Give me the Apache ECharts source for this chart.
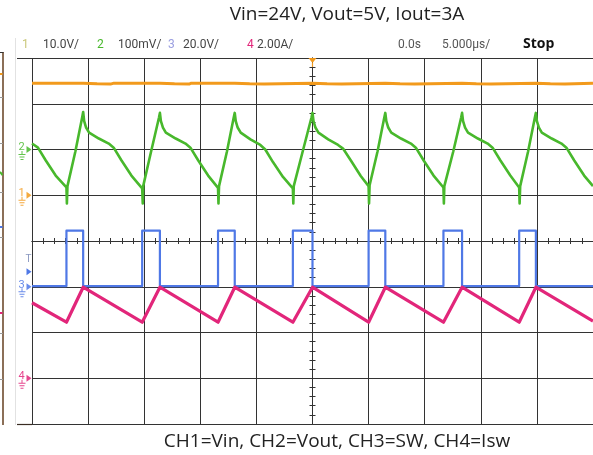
<!DOCTYPE html>
<html>
<head>
<meta charset="utf-8">
<script src="https://cdn.jsdelivr.net/npm/echarts@6/dist/echarts.min.js"></script>
<style>
  html, body { margin: 0; padding: 0; background: #ffffff; }
  #chart { width: 593px; height: 455px; }
</style>
</head>
<body>
<div id="chart"></div>
<script>
// Horizontal: 5 µs/div, 10 divisions, trigger point at 0 µs
const timeMin = -25, timeMax = 25, timeDiv = 5;
// Vertical: 8 divisions around the screen centre
const divMin = -4, divMax = 4;

// Channel setup: number, colour, units per division, ground position (divisions above centre)
const chNames = ['1', '2', '3', '4'];
const chColors = ['#f29a1c', '#48b82c', '#4f78e6', '#e2267a'];
const chScale = [10, 100, 20, 2];
const chGround = [1, 2, -1, -3];

// Readout texts
const title = 'Vin=24V, Vout=5V, Iout=3A';
const caption = 'CH1=Vin, CH2=Vout, CH3=SW, CH4=Isw';
const scaleLabels = ['10.0V/', '100mV/', '20.0V/', '2.00A/'];
const timeLabels = ['0.0s', '5.000µs/'];
const runState = 'Stop';

// CH1: input voltage (V)
const vinTime  = [-25, -20.44, -20.35, -19.2, -18.0, -17.7, -13.60, -13.51, -12.3, -11.0, -10.8, -6.93, -6.84, -5.6, -4.3, -4.2, 0, 0.09, 1.3, 2.6, 2.7, 6.49, 6.58, 7.8, 9.1, 9.2, 13.33, 13.42, 14.6, 15.9, 16.0, 19.91, 20.0, 21.2, 22.5, 22.6, 25];
const vinVolts = [24.5, 24.5, 24.3, 24.35, 24.3, 24.5, 24.5, 24.3, 24.35, 24.3, 24.5, 24.5, 24.3, 24.35, 24.3, 24.5, 24.5, 24.3, 24.35, 24.3, 24.5, 24.5, 24.3, 24.35, 24.3, 24.5, 24.5, 24.3, 24.35, 24.3, 24.5, 24.5, 24.3, 24.35, 24.3, 24.5, 24.5];

// CH2: output ripple (mV, AC coupled)
const voutTime = [
  -25.00, -24.47, -23.77, -22.89, -21.93, -21.89, -21.84, -21.14, -20.53, -20.44, -20.35, -20.18, -19.91, -19.04, -18.16, -17.72, -17.02, -16.14,
  -15.18, -15.13, -15.09, -14.39, -13.68, -13.60, -13.51, -13.33, -13.07, -12.19, -11.32, -10.88, -10.18, -9.30,
  -8.42, -8.38, -8.33, -7.63, -7.02, -6.93, -6.84, -6.67, -6.40, -5.53, -4.65, -4.21, -3.51, -2.63,
  -1.75, -1.71, -1.67, -0.88, -0.09, 0.00, 0.09, 0.26, 0.53, 1.40, 2.28, 2.72, 3.42, 4.30,
  5.00, 5.04, 5.09, 5.79, 6.40, 6.49, 6.58, 6.75, 7.02, 7.89, 8.77, 9.21, 9.91, 10.79,
  11.67, 11.71, 11.75, 12.54, 13.25, 13.33, 13.42, 13.60, 13.86, 14.74, 15.61, 16.05, 16.75, 17.63,
  18.42, 18.46, 18.51, 19.21, 19.82, 19.91, 20.00, 20.18, 20.44, 21.32, 22.19, 22.63, 23.33, 24.21, 25.00
];
const voutMilliVolts = [
  13, 4, -24, -57, -83, -118, -80, -5, 70, 82, 62, 48, 37, 24, 13, 4, -24, -57,
  -85, -118, -80, -5, 70, 80, 62, 48, 37, 24, 13, 4, -24, -57,
  -84, -118, -80, -5, 70, 80, 62, 48, 37, 22, 10, 0, -28, -60,
  -85, -118, -80, -5, 70, 80, 62, 48, 37, 22, 10, 2, -24, -58,
  -80, -118, -78, -5, 70, 80, 62, 48, 37, 24, 13, 4, -24, -57,
  -83, -118, -80, -5, 70, 80, 62, 48, 37, 24, 13, 4, -24, -57,
  -83, -118, -80, -5, 70, 80, 62, 48, 37, 24, 13, 4, -24, -57, -80
];

// CH3: switch node (V)
const swTime  = [-25, -21.93, -21.93, -20.44, -20.44, -15.18, -15.18, -13.60, -13.60, -8.42, -8.42, -6.93, -6.93, -1.75, -1.75, 0, 0, 5.00, 5.00, 6.49, 6.49, 11.67, 11.67, 13.33, 13.33, 18.42, 18.42, 19.91, 19.91, 25];
const swVolts = [0.3, 0.3, 24.5, 24.5, 0.3, 0.3, 24.5, 24.5, 0.3, 0.3, 24.5, 24.5, 0.3, 0.3, 24.5, 24.5, 0.3, 0.3, 24.5, 24.5, 0.3, 0.3, 24.5, 24.5, 0.3, 0.3, 24.5, 24.5, 0.3, 0.3];

// CH4: switch current (A)
const iswTime = [-25, -21.93, -20.44, -15.18, -13.60, -8.42, -6.93, -1.75, 0, 5.00, 6.49, 11.67, 13.33, 18.42, 19.91, 25];
const iswAmps = [3.30, 2.45, 3.98, 2.45, 3.98, 2.45, 3.98, 2.45, 3.98, 2.45, 3.98, 2.45, 3.98, 2.45, 3.98, 2.50];

// CH3 trigger level (V)
const trigLevel = 6.6;

const zip = (t, v) => t.map((x, i) => [x, v[i]]);

// Ground marker: right-pointing arrow with an earth symbol underneath
const groundPath = 'path://M9,0 L14,3.5 L9,7 Z M4,5 L5,5 L5,8 L4,8 Z M1,8 L8,8 L8,9 L1,9 Z M2,10.5 L7,10.5 L7,11.5 L2,11.5 Z M3,13 L6,13 L6,14 L3,14 Z';

function channelAxis(i) {
  const s = chScale[i], g = chGround[i];
  return { type: 'value', gridIndex: 0, show: false, min: (divMin - g) * s, max: (divMax - g) * s };
}

function groundMark(i) {
  return {
    coord: [timeMin, 0],
    symbol: groundPath,
    symbolSize: [14, 14],
    symbolKeepAspect: true,
    symbolOffset: [-7, 3.5],
    itemStyle: { color: chColors[i], opacity: 0.85 },
    label: {
      show: true, formatter: chNames[i], position: [0, -4],
      align: 'left', verticalAlign: 'top',
      color: chColors[i], fontSize: 11, fontFamily: 'Roboto'
    }
  };
}

const traceSets = [zip(vinTime, vinVolts), zip(voutTime, voutMilliVolts), zip(swTime, swVolts), zip(iswTime, iswAmps)];
const traceWidths = [3, 2.6, 2.2, 3.2];

const series = traceSets.map((d, i) => {
  const marks = [groundMark(i)];
  if (i === 2) {
    marks.push({
      coord: [timeMin, trigLevel],
      symbol: 'path://M0,0 L5,3.5 L0,7 Z',
      symbolSize: [5, 7],
      symbolOffset: [-3, 0],
      itemStyle: { color: chColors[2] },
      label: {
        show: true, formatter: 'T', position: [-1, -14],
        align: 'left', verticalAlign: 'top',
        color: '#8a98c0', fontSize: 10, fontFamily: 'Roboto'
      }
    });
  }
  if (i === 0) {
    marks.push({
      coord: [0, (divMax - chGround[0]) * chScale[0]],
      symbol: 'path://M0,0 L8,0 L4,5 Z M3.4,5 L4.6,5 L4.6,9 L3.4,9 Z',
      symbolSize: [8, 9],
      symbolOffset: [0, 4.5],
      itemStyle: { color: chColors[0] },
      label: { show: false }
    });
  }
  return {
    type: 'line',
    name: 'CH' + chNames[i],
    xAxisIndex: 0,
    yAxisIndex: 3 + i,
    data: d,
    showSymbol: false,
    symbol: 'none',
    animation: false,
    lineStyle: { color: chColors[i], width: traceWidths[i], join: 'round' },
    markPoint: { silent: true, animation: false, data: marks }
  };
});

const gridColor = '#333333';
const tickStyle = { color: '#333333', width: 1 };

function centreXAxis(pos) {
  return {
    type: 'value', gridIndex: 0, position: pos, min: timeMin, max: timeMax, interval: timeDiv,
    axisLine: { show: true, onZero: true, onZeroAxisIndex: 0, lineStyle: { color: gridColor, width: 1 } },
    axisTick: { show: true, length: 3, lineStyle: tickStyle },
    minorTick: { show: true, splitNumber: 5, length: 3, lineStyle: tickStyle },
    axisLabel: { show: false }, splitLine: { show: false }
  };
}
function centreYAxis(pos) {
  return {
    type: 'value', gridIndex: 0, position: pos, min: divMin, max: divMax, interval: 1,
    axisLine: { show: true, onZero: true, onZeroAxisIndex: 0, lineStyle: { color: gridColor, width: 1 } },
    axisTick: { show: true, length: 3, lineStyle: tickStyle },
    minorTick: { show: true, splitNumber: 5, length: 3, lineStyle: tickStyle },
    axisLabel: { show: false }, splitLine: { show: false }
  };
}

// Header readouts
const headerX = [22, 43, 97, 118, 168, 183, 247, 257];
const header = [];
chNames.forEach((n, i) => {
  header.push({ type: 'text', x: headerX[2 * i], y: 45, style: { text: n, fill: i === 0 ? '#c9c77a' : (i === 2 ? '#9a9ee0' : chColors[i]), font: '12px Roboto', verticalAlign: 'middle' } });
  header.push({ type: 'text', x: headerX[2 * i + 1], y: 45, style: { text: scaleLabels[i], fill: '#444', font: '12px Roboto', verticalAlign: 'middle' } });
});
header.push({ type: 'text', x: 398, y: 45, style: { text: timeLabels[0], fill: '#555', font: '12px Roboto', verticalAlign: 'middle' } });
header.push({ type: 'text', x: 442, y: 45, style: { text: timeLabels[1], fill: '#555', font: '12px Roboto', verticalAlign: 'middle' } });
header.push({ type: 'text', x: 523, y: 44, style: { text: runState, fill: '#111', font: 'bold 14px "Open Sans"', verticalAlign: 'middle' } });

// Frame pieces around the screen and the neighbouring panel edge
const frame = [
  { type: 'line', shape: { x1: 15.5, y1: 38, x2: 15.5, y2: 425 }, style: { stroke: '#e2e2e2', lineWidth: 1 } },
  { type: 'line', shape: { x1: 17, y1: 58.5, x2: 32, y2: 58.5 }, style: { stroke: '#333', lineWidth: 1 } },
  { type: 'line', shape: { x1: 17, y1: 424.5, x2: 32, y2: 424.5 }, style: { stroke: '#3a2c22', lineWidth: 1.2 } },
  { type: 'line', shape: { x1: 3, y1: 52, x2: 3, y2: 425 }, style: { stroke: '#6e4b2e', lineWidth: 1.6 } },
  { type: 'line', shape: { x1: 0, y1: 52.5, x2: 3.5, y2: 52.5 }, style: { stroke: '#333', lineWidth: 1 } },
  { type: 'line', shape: { x1: 0, y1: 74, x2: 2.5, y2: 74 }, style: { stroke: '#f29a1c', lineWidth: 2 } },
  { type: 'line', shape: { x1: 0, y1: 172, x2: 2.5, y2: 175 }, style: { stroke: '#48b82c', lineWidth: 2 } },
  { type: 'line', shape: { x1: 0, y1: 227, x2: 2.5, y2: 227 }, style: { stroke: '#4f78e6', lineWidth: 2 } },
  { type: 'line', shape: { x1: 0, y1: 313, x2: 2.5, y2: 313 }, style: { stroke: '#e2267a', lineWidth: 2 } }
];
[97, 143, 192, 237, 333, 379].forEach(y => {
  frame.push({ type: 'line', shape: { x1: 0, y1: y + 0.5, x2: 3, y2: y + 0.5 }, style: { stroke: '#999', lineWidth: 1 } });
});

const texts = [
  { type: 'text', x: 347, y: 15, style: { text: title, fill: '#222', font: '19px "Open Sans"', align: 'center', verticalAlign: 'middle' } },
  { type: 'text', x: 337, y: 442, style: { text: caption, fill: '#222', font: '19px "Open Sans"', align: 'center', verticalAlign: 'middle' } }
];

const option = {
  animation: false,
  backgroundColor: '#ffffff',
  grid: { left: 32, top: 58, width: 570, height: 366, containLabel: false },
  xAxis: [
    {
      type: 'value', gridIndex: 0, min: timeMin, max: timeMax, interval: timeDiv,
      axisLine: { show: false }, axisTick: { show: false }, axisLabel: { show: false },
      splitLine: { show: true, lineStyle: { color: gridColor, width: 1 } }
    },
    centreXAxis('bottom'),
    centreXAxis('top')
  ],
  yAxis: [
    {
      type: 'value', gridIndex: 0, min: divMin, max: divMax, interval: 1,
      axisLine: { show: false }, axisTick: { show: false }, axisLabel: { show: false },
      splitLine: { show: true, lineStyle: { color: gridColor, width: 1 } }
    },
    centreYAxis('left'),
    centreYAxis('right'),
    channelAxis(0), channelAxis(1), channelAxis(2), channelAxis(3)
  ],
  series: series,
  graphic: frame.concat(header, texts)
};

const chart = echarts.init(document.getElementById('chart'));
chart.setOption(option);
</script>
</body>
</html>
